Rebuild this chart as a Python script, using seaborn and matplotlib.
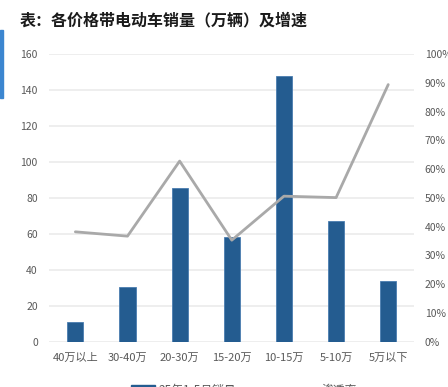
import matplotlib
matplotlib.use("Agg")
import matplotlib.pyplot as plt
import seaborn as sns
import pandas as pd
from matplotlib.patches import Rectangle
from matplotlib.lines import Line2D

categories = ["40万以上", "30-40万", "20-30万", "15-20万", "10-15万", "5-10万", "5万以下"]
sales = [10.8, 30.4, 85.6, 58.5, 147.8, 67.4, 33.7]
penetration = [38.2, 36.7, 62.8, 35.3, 50.6, 50.1, 89.4]
left_ticks = [0, 20, 40, 60, 80, 100, 120, 140, 160]
right_ticks = [0, 10, 20, 30, 40, 50, 60, 70, 80, 90, 100]
title = "表：各价格带电动车销量（万辆）及增速"
bar_label = "25年1-5月销量"
line_label = "渗透率"

sns.set_theme(style="white")
plt.rcParams["font.family"] = ["Noto Sans CJK SC", "DejaVu Sans"]

df = pd.DataFrame({"cat": categories, "sales": sales, "rate": penetration})

fig = plt.figure(figsize=(4.48, 3.87), dpi=100)
ax = fig.add_axes([0.110, 0.1171, 0.8148, 0.7431])

bar_color = "#245C90"
line_color = "#A9A9A9"
txt = "#595959"

sns.barplot(data=df, x="cat", y="sales", ax=ax, color=bar_color, width=0.31,
            saturation=1, edgecolor="#4A7DB0", linewidth=0.6, zorder=3)
ax.set_ylim(0, 160)
ax.set_yticks(left_ticks)
ax.set_xlim(-0.5, len(categories) - 0.5)
ax.set_xlabel("")
ax.set_ylabel("")
for y in left_ticks:
    ax.axhline(y, color="#EBEBEB", lw=1.2, zorder=1)
for s in ax.spines.values():
    s.set_visible(False)
ax.tick_params(axis="y", length=0, pad=8.3, labelsize=7.5, labelcolor=txt)
ax.tick_params(axis="x", length=0, pad=8, labelsize=8, labelcolor=txt)

ax2 = ax.twinx()
sns.pointplot(data=df, x="cat", y="rate", ax=ax2, color=line_color, markers="",
              linewidth=2, errorbar=None)
ax2.set_ylim(0, 100)
ax2.set_yticks(right_ticks)
ax2.set_yticklabels([f"{t}%" for t in right_ticks])
ax2.set_xlim(-0.5, len(categories) - 0.5)
ax2.set_ylabel("")
ax2.set_xlabel("")
for s in ax2.spines.values():
    s.set_visible(False)
ax2.tick_params(axis="y", length=0, pad=7.5, labelsize=7.5, labelcolor=txt)
ax2.grid(False)

handles = [Rectangle((0, 0), 1, 1, facecolor=bar_color, edgecolor=bar_color),
           Line2D([0], [0], color=line_color, lw=2)]
fig.legend(handles, [bar_label, line_label], loc="center", ncol=2,
           bbox_to_anchor=(0.545, -0.008), frameon=False, fontsize=8.5,
           handlelength=2.0, handletextpad=0.3, columnspacing=5.0,
           labelcolor=txt)

fig.text(0.045, 0.948, title, fontsize=11.5, fontweight="bold", color="#1a1a1a",
         ha="left", va="center")

# left-edge strip
fig.patches.append(Rectangle((0, 1 - 98 / 387), 3 / 448, 68 / 387,
                             transform=fig.transFigure, color="#3C86D0", zorder=5))

fig.savefig("out.png", dpi=100)
